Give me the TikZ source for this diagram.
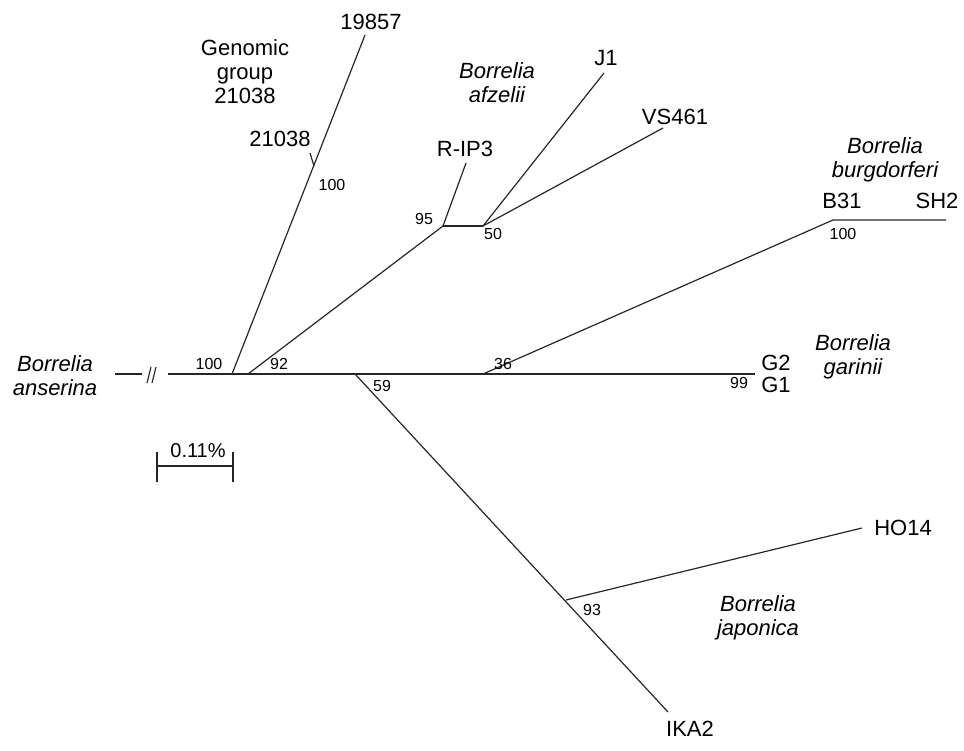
\documentclass[tikz,border=0pt]{standalone}
\usepackage{fontspec}
\setmainfont{Liberation Sans}
\usetikzlibrary{positioning}

\begin{document}
\begin{tikzpicture}[
  x=0.5pt, y=-0.5pt,
  % ---- styles ----
  branch/.style = {line width=0.6pt, black!85},
  taxon/.style = {font=\fontsize{11}{12}\selectfont, inner sep=0pt},
  species/.style = {font=\fontsize{11}{12}\selectfont\itshape, align=center, inner sep=0pt},
  group/.style = {font=\fontsize{11}{12}\selectfont, align=center, inner sep=0pt},
  boot/.style = {font=\fontsize{8}{9}\selectfont, inner sep=0pt}
]
\useasboundingbox (0,0) rectangle (964,750);

% ============ INNER NODES ============
\coordinate (root)  at (168,374);
\coordinate (n100)  at (232,374);
\coordinate (n92)   at (248,374);
\coordinate (n59)   at (355,374);
\coordinate (n36)   at (483,374);
\coordinate (g21038) at (314,166);
\coordinate (n95)   at (443,226);
\coordinate (n50)   at (483,226);
\coordinate (nB31)  at (833,220);
\coordinate (n93)   at (566,600);

% ============ TIPS ============
\coordinate (t19857) at (365,35);
\coordinate (t21038) at (310,153);
\coordinate (tRIP3)  at (466,163);
\coordinate (tJ1)    at (604,73);
\coordinate (tVS461) at (663,128);
\coordinate (tSH2)   at (946,220);
\coordinate (tG)     at (755,374);
\coordinate (tHO14)  at (862,528);
\coordinate (tIKA2)  at (668,712);

% ============ BRANCHES ============
% outgroup stub with break
\coordinate (stubL) at (115,374);
\coordinate (stubR) at (142,374);
\draw[branch] (stubL) -- (stubR);
\draw[branch] (147,383) -- (151,367);
\draw[branch] (152,383) -- (156,367);

% backbone
\draw[branch] (root) -- (tG);

% genomic group 21038
\draw[branch] (n100) -- (t19857);
\draw[branch] (g21038) -- (t21038);

% afzelii
\draw[branch] (n92) -- (n95);
\draw[branch] (n95) -- (tRIP3);
\draw[branch] (n95) -- (n50);
\draw[branch] (n50) -- (tJ1);
\draw[branch] (n50) -- (tVS461);

% burgdorferi
\draw[branch] (n36) -- (nB31) -- (tSH2);

% japonica
\draw[branch] (n59) -- (tIKA2);
\draw[branch] (n93) -- (tHO14);

% ============ LABELS ============
\node[species] (anserina) at (55,376) {Borrelia\\anserina};
\node[group] (genomic) at (245,72) {Genomic\\group\\21038};
\node[taxon] (l19857) at (371,22) {19857};
\node[taxon] (l21038) at (280,139) {21038};
\node[species] (afzelii) at (497,83) {Borrelia\\afzelii};
\node[taxon] (lRIP3) at (465,149) {R-IP3};
\node[taxon] (lJ1) at (606,58) {J1};
\node[taxon] (lVS461) at (675,117) {VS461};
\node[species] (burgdorferi) at (885,160) {Borrelia\\burgdorferi};
\node[taxon] (lB31) at (842,201) {B31};
\node[taxon] (lSH2) at (937,201) {SH2};
\node[species] (garinii) at (853,357) {Borrelia\\garinii};
\node[taxon] (lG2) at (776,363) {G2};
\node[taxon] (lG1) at (776,385) {G1};
\node[species] (japonica) at (758,618) {Borrelia\\japonica};
\node[taxon] (lHO14) at (903,528) {HO14};
\node[taxon] (lIKA2) at (690,729) {IKA2};

% bootstrap values
\node[boot] (b100a) at (209,364) {100};
\node[boot] (b100b) at (332,185) {100};
\node[boot] (b92) at (279,364) {92};
\node[boot] (b95) at (424,219) {95};
\node[boot] (b50) at (493,234) {50};
\node[boot] (b100c) at (843,234) {100};
\node[boot] (b36) at (503,364) {36};
\node[boot] (b99) at (739,383) {99};
\node[boot] (b59) at (382,386) {59};
\node[boot] (b93) at (592,610) {93};

% ============ SCALE BAR ============
\coordinate (sL) at (157,466);
\coordinate (sR) at (233,466);
\draw[branch] (sL) -- (sR);
\draw[branch] ([yshift=-8]sL) -- ([yshift=7]sL);
\draw[branch] ([yshift=-8]sR) -- ([yshift=7]sR);
\node[boot, font=\fontsize{10}{11}\selectfont] (scale) at (198,451) {0.11\%};

\end{tikzpicture}
\end{document}
